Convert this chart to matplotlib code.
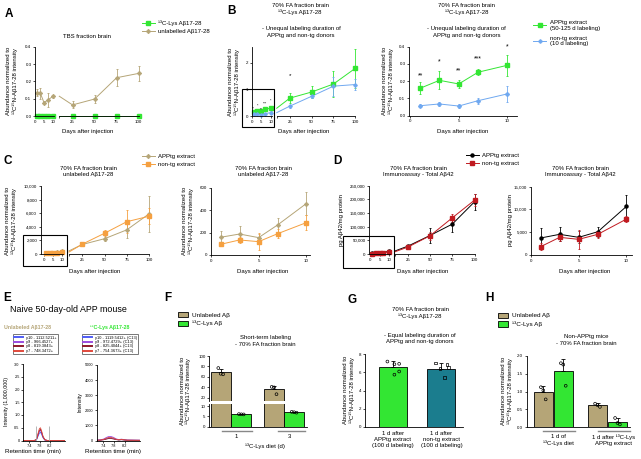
import matplotlib
matplotlib.use('Agg')
import matplotlib.pyplot as plt
import matplotlib.ticker as mticker
from matplotlib.patches import Rectangle, Patch
from matplotlib.lines import Line2D

plt.rcParams['font.family'] = ['Liberation Sans', 'DejaVu Sans']
plt.rcParams['axes.linewidth'] = 0.6

# ---------------- data ----------------
days_short = [1, 3, 5, 7, 10]
days_long = [25, 50, 75, 100]

# A - TBS fraction
a_lab_short = [0, 0, 0, 0, 0]
a_lab_long = [0, 0, 0, 0]
a_unl_short = [0.134, 0.13, 0.077, 0.092, 0.114]
a_unl_short_err = [0.02, 0.03, 0.006, 0.04, 0.01]
a_unl_long = [0.064, 0.098, 0.221, 0.246]
a_unl_long_err = [0.02, 0.025, 0.05, 0.045]

# B - 13C-Lys A-beta 17-28, 70% FA
b_app_short = [0.159, 0.205, 0.184, 0.252, 0.292]
b_app_short_err = [0.035, 0.053, 0.022, 0.018, 0.06]
b_non_short = [0.058, 0.068, 0.056, 0.087, 0.126]
b_non_short_err = [0.008, 0.01, 0.012, 0.017, 0.045]
b_app_long = [0.67, 0.9, 1.2, 1.79]
b_app_long_err = [0.19, 0.23, 0.48, 0.73]
b_non_long = [0.37, 0.74, 1.12, 1.18]
b_non_long_err = [0.06, 0.08, 0.36, 0.2]
b_stars = ['**', '*', '**', '***', '*']
b_stars_y = [0.23, 0.31, 0.26, 0.33, 0.40]
b_stars_small_y = [0.29, 0.37, 0.25, 0.48, 0.57]

# C - unlabeled A-beta 17-28, 70% FA
c_app_short = [158, 187, 155, 268, 458]
c_app_short_err = [58, 70, 35, 62, 100]
c_non_short = [95, 134, 119, 190, 288]
c_non_short_err = [12, 30, 75, 40, 65]
c_app_long = [1400, 2250, 3550, 5900]
c_app_long_err = [200, 350, 1150, 2600]
c_non_long = [1450, 3050, 4750, 5550]
c_non_long_err = [200, 500, 1650, 1200]

# D - immunoassay total A-beta 42
d_app_short = [3730, 4540, 3880, 5110, 10680]
d_app_short_err = [2100, 1500, 1300, 1100, 2600]
d_non_short = [1820, 3880, 3440, 4540, 7890]
d_non_short_err = [800, 800, 2100, 800, 600]
d_app_long = [29000, 68000, 109500, 191000]
d_app_long_err = [3000, 26000, 30000, 30000]
d_non_long = [25500, 67000, 132500, 197000]
d_non_long_err = [3000, 15000, 15000, 22000]

# E - chromatograms
rt_unl = [7.17, 7.6, 7.68, 7.74, 7.79, 7.83, 7.87, 7.93, 8.0, 8.1, 8.78]
unl_y10 = [0, 0, 0.03, 0.17, 0.29, 0.32, 0.26, 0.11, 0.02, 0, 0]
unl_y9 = [0, 0, 0.03, 0.21, 0.36, 0.4, 0.32, 0.13, 0.02, 0, 0]
unl_y8 = [0, 0, 0.04, 0.24, 0.4, 0.44, 0.35, 0.15, 0.03, 0, 0]
unl_y7 = [0, 0, 0.05, 0.28, 0.46, 0.5, 0.4, 0.17, 0.03, 0, 0]
unl_bounds = [7.65, 8.15]
rt_lab = [7.16, 7.3, 7.42, 7.52, 7.6, 7.68, 7.78, 7.88, 7.98, 8.08, 8.18, 8.3, 8.77]
lab_y10 = [20, 30, 60, 120, 160, 170, 130, 70, 40, 60, 40, 20, 10]
lab_y9 = [30, 40, 100, 200, 260, 270, 210, 110, 60, 90, 60, 30, 20]
lab_y8 = [10, 20, 50, 90, 130, 140, 100, 60, 30, 50, 30, 15, 10]
lab_y7 = [20, 30, 70, 150, 200, 210, 160, 80, 50, 70, 45, 25, 15]
unl_ions = ['y10 - 1112.5211+', 'y9 - 966.4527+', 'y8 - 819.3843+', 'y7 - 748.3472+']
lab_ions = ['y10 - 1119.5412+ (C13)', 'y9 - 972.4729+ (C13)',
            'y8 - 825.4044+ (C13)', 'y7 - 754.3673+ (C13)']

# F - short-term labeling
f_groups = ['1', '3']
f_unl_mean = [69.3, 36.0]
f_unl_sd = [6.5, 7.0]
f_unl_pts = [[77, 66, 65], [41, 40, 27]]
f_lab_mean = [6.0, 7.0]
f_lab_sd = [0.1, 0.2]
f_lab_pts = [[6.1, 6.0, 5.95], [7.2, 7.0, 6.8]]

# G - equal labeling duration
g_labels = ['1 d after\nAPPtg extract\n(100 d labeling)',
            '1 d after\nnon-tg extract\n(100 d labeling)']
g_mean = [6.6, 6.4]
g_sd = [0.62, 0.6]
g_pts = [[7.2, 6.9, 6.95, 6.1, 5.75], [7.05, 6.85, 6.5, 6.45, 5.4]]

# H - non-APPtg mice
h_labels = ['1 d of\n\u00b9\u00b3C-Lys diet', '1 d after \u00b9\u00b3C-Lys\nAPPtg extract']
h_unl_mean = [0.98, 0.617]
h_unl_sd = [0.18, 0.05]
h_unl_pts = [[1.12, 1.03, 0.78], [0.66, 0.62, 0.57]]
h_lab_mean = [1.57, 0.153]
h_lab_sd = [0.35, 0.1]
h_lab_pts = [[1.79, 1.75, 1.16], [0.26, 0.12, 0.08]]

# ---------------- style ----------------
GREEN = '#33e633'
TAN = '#b5a577'
BLUE = '#6fa8f0'
ORANGE = '#f5a040'
RED = '#c01a20'
TEAL = '#1b7d8e'
STAR4 = (4, 1, 0)
FS = 4.3
TFS = 3.2
YLAB = 'Abundance normalized to\n\u00b9\u00b3C\u00b9\u2075N-A\u03b217-28 intensity'

W, H = 641, 459
fig = plt.figure(figsize=(W / 100, H / 100), dpi=100)


def box(l, t, r, b):
    return fig.add_axes([l / W, 1 - b / H, (r - l) / W, (b - t) / H])


def ftext(x, y, s, **kw):
    kw.setdefault('ha', 'center')
    kw.setdefault('va', 'center')
    kw.setdefault('fontsize', FS)
    fig.text(x / W, 1 - y / H, s, **kw)


def style(ax):
    for s in ['top', 'right']:
        ax.spines[s].set_visible(False)
    ax.tick_params(labelsize=TFS, length=1.6, width=0.5, pad=1)
    ax.patch.set_alpha(0)


def noclip(container):
    for art in container.get_children():
        art.set_clip_on(False)


def frame_box(l, t, r, b):
    fig.patches.append(Rectangle((l / W, 1 - b / H), (r - l) / W, (b - t) / H,
                                 transform=fig.transFigure, fill=False,
                                 lw=0.8, ec='black'))


def broken_axes(l1, r1, l2, r2, t, b, x1lim, ylim, yticks, yfmt):
    a1 = box(l1, t, r1, b)
    a2 = box(l2, t, r2, b)
    for a in (a1, a2):
        style(a)
        a.set_ylim(*ylim)
    a1.set_xlim(*x1lim)
    a1.set_xticks([0, 5, 10])
    a1.set_yticks(yticks)
    a1.yaxis.set_major_formatter(yfmt)
    a2.set_xlim(10, 100)
    a2.set_xticks([10, 25, 50, 75, 100])
    a2.set_xticklabels(['', '25', '50', '75', '100'])
    a2.spines['left'].set_visible(False)
    a2.tick_params(axis='y', left=False, labelleft=False)
    return a1, a2


def series(a1, a2, s_y, s_e, l_y, l_e, color, marker, ms=2.4):
    kw = dict(color=color, marker=marker, ms=ms, elinewidth=0.6,
              capsize=1.0, capthick=0.6)
    noclip(a1.errorbar(days_short, s_y, yerr=s_e, lw=0.7, **kw))
    a2.plot([days_short[-1]] + days_long, [s_y[-1]] + l_y, color=color,
            lw=0.7, clip_on=False)
    noclip(a2.errorbar(days_long, l_y, yerr=l_e, ls='none', **kw))


def short_series(ax, s_y, s_e, color, marker, ms=2.4):
    noclip(ax.errorbar(days_short, s_y, yerr=s_e, color=color, marker=marker,
                       ms=ms, lw=0.7, elinewidth=0.6, capsize=1.0,
                       capthick=0.6))


def legend_at(handles, labels, x, y, **kw):
    opts = dict(loc='upper left', bbox_to_anchor=(x / W, 1 - y / H),
                frameon=False, fontsize=FS, borderpad=0, borderaxespad=0,
                handlelength=2.2, handletextpad=0.6, labelspacing=0.6)
    opts.update(kw)
    fig.legend(handles, labels, **opts)


def mk(color, marker, ms=2.4):
    return Line2D([], [], color=color, marker=marker, ms=ms, lw=0.7)


comma = mticker.StrMethodFormatter('{x:,.0f}')
one_dec = mticker.StrMethodFormatter('{x:.1f}')
plain = mticker.StrMethodFormatter('{x:.0f}')

# ---------------- panel letters ----------------
for letter, (x, y) in {'A': (9, 14), 'B': (232, 11), 'C': (8, 161), 'D': (337, 161),
                       'E': (7, 298), 'F': (168, 298), 'G': (352, 300),
                       'H': (489, 298)}.items():
    ftext(x, y, letter, fontsize=8.5, fontweight='bold')

# ---------------- A ----------------
a1, a2 = broken_axes(35, 54, 59.3, 138.7, 46.7, 116, (0, 10.5), (0, 0.4),
                     [0, 0.1, 0.2, 0.3, 0.4], one_dec)
series(a1, a2, a_lab_short, None, a_lab_long, None, GREEN, 's', 2.2)
series(a1, a2, a_unl_short, a_unl_short_err, a_unl_long, a_unl_long_err, TAN, STAR4, 3)
ftext(86.7, 36, 'TBS fraction brain')
ftext(12, 81, YLAB, rotation=90)
ftext(87.3, 131.7, 'Days after injection')
legend_at([mk(GREEN, 's', 2.2), mk(TAN, STAR4, 3)],
          ['\u00b9\u00b3C-Lys A\u03b217-28', 'unlabelled A\u03b217-28'], 141.7, 20)

# ---------------- B left ----------------
b1, b2 = broken_axes(251.7, 271.6, 276.7, 355.3, 46.7, 116, (0, 10.5), (0, 2.6),
                     [0, 1, 2], plain)
series(b1, b2, b_app_short, b_app_short_err, b_app_long, b_app_long_err, GREEN, 's', 2.2)
series(b1, b2, b_non_short, b_non_short_err, b_non_long, b_non_long_err, BLUE, 'P', 2.2)
for d, s, y in zip(days_short, b_stars, b_stars_small_y):
    b1.text(d, y, s, fontsize=2.6, ha='center', va='center')
b2.text(days_long[0], 1.5, '*', fontsize=4.5, ha='center', va='center')
frame_box(242, 89.5, 274, 127)
ftext(300, 9.3, '70% FA fraction brain\n\u00b9\u00b3C-Lys A\u03b217-28', linespacing=1.3)
ftext(301, 32, '- Unequal labeling duration of\nAPPtg and non-tg donors', linespacing=1.3)
ftext(233.7, 81.7, YLAB, rotation=90)
ftext(304, 131, 'Days after injection')

# ---------------- B right ----------------
br = box(409, 46.7, 516.7, 115.7)
style(br)
br.set_xlim(-0.15, 11)
br.set_ylim(0, 0.4)
br.set_xticks([0, 5, 10])
br.set_yticks([0, 0.1, 0.2, 0.3, 0.4])
br.yaxis.set_major_formatter(one_dec)
short_series(br, b_app_short, b_app_short_err, GREEN, 's', 2.4)
short_series(br, b_non_short, b_non_short_err, BLUE, 'P', 2.4)
for d, s, y in zip(days_short, b_stars, b_stars_y):
    br.text(d, y, s, fontsize=5, ha='center', va='center')
ftext(466.7, 9.3, '70% FA fraction brain\n\u00b9\u00b3C-Lys A\u03b217-28', linespacing=1.3)
ftext(466.7, 32, '- Unequal labeling duration of\nAPPtg and non-tg donors', linespacing=1.3)
ftext(388.3, 81, YLAB, rotation=90)
ftext(462.7, 131.7, 'Days after injection')
legend_at([mk(GREEN, 's', 2.2), mk(BLUE, 'P', 2.2)],
          ['APPtg extract\n(50-125 d labeling)', 'non-tg extract\n(10 d labeling)'],
          533, 20, labelspacing=0.8)

# ---------------- C left ----------------
c1, c2 = broken_axes(40.7, 63, 69, 149, 186, 254, (-2, 10.5), (0, 10000),
                     [0, 2000, 4000, 6000, 8000, 10000], comma)
series(c1, c2, c_app_short, c_app_short_err, c_app_long, c_app_long_err, TAN, STAR4, 3)
series(c1, c2, c_non_short, c_non_short_err, c_non_long, c_non_long_err, ORANGE, 's', 2.2)
frame_box(23.3, 234.5, 66.5, 266)
ftext(88.3, 171.7, '70% FA fraction brain\nunlabeled A\u03b217-28', linespacing=1.3)
ftext(10.8, 221, YLAB, rotation=90)
ftext(95, 271, 'Days after injection')
legend_at([mk(TAN, STAR4, 3), mk(ORANGE, 's', 2.2)],
          ['APPtg extract', 'non-tg extract'], 141.7, 153.5)

# ---------------- C right ----------------
cr = box(211, 187.7, 310, 255)
style(cr)
cr.set_xlim(0, 10.4)
cr.set_ylim(0, 600)
cr.set_xticks([0, 5, 10])
cr.set_yticks([0, 200, 400, 600])
short_series(cr, c_app_short, c_app_short_err, TAN, STAR4, 3)
short_series(cr, c_non_short, c_non_short_err, ORANGE, 's', 2.2)
ftext(263.3, 171.7, '70% FA fraction brain\nunlabeled A\u03b217-28', linespacing=1.3)
ftext(188.3, 221, YLAB, rotation=90)
ftext(263, 272, 'Days after injection')

# ---------------- D left ----------------
d1, d2 = broken_axes(369.3, 390, 394.7, 474.5, 185.7, 254, (-0.5, 10.5), (0, 250000),
                     [0, 50000, 100000, 150000, 200000, 250000], comma)
series(d1, d2, d_app_short, d_app_short_err, d_app_long, d_app_long_err, 'black', 'o', 2.2)
series(d1, d2, d_non_short, d_non_short_err, d_non_long, d_non_long_err, RED, 's', 2.2)
frame_box(343.3, 235.7, 394, 267.7)
ftext(418.3, 171.7, '70% FA fraction brain\nImmunoassay - Total A\u03b242', linespacing=1.3)
ftext(342, 220, 'pg A\u03b242/mg protein', rotation=90)
ftext(423, 271, 'Days after injection')
legend_at([mk('black', 'o', 2.2), mk(RED, 's', 2.2)],
          ['APPtg extract', 'non-tg extract'], 465.7, 152.5)

# ---------------- D right ----------------
dr = box(531, 186.7, 631.7, 255)
style(dr)
dr.set_xlim(0, 10.55)
dr.set_ylim(0, 15000)
dr.set_xticks([0, 5, 10])
dr.set_yticks([0, 5000, 10000, 15000])
dr.yaxis.set_major_formatter(comma)
short_series(dr, d_app_short, d_app_short_err, 'black', 'o', 2.2)
short_series(dr, d_non_short, d_non_short_err, RED, 's', 2.2)
ftext(580, 171.7, '70% FA fraction brain\nImmunoassay - Total A\u03b242', linespacing=1.3)
ftext(511, 220, 'pg A\u03b242/mg protein', rotation=90)
ftext(585, 271, 'Days after injection')

# ---------------- E ----------------
ion_colors = ['#4f5cf5', '#9a4de0', '#8b1a2b', '#e0493c']
ftext(10, 310, 'Naive 50-day-old APP mouse', fontsize=6.4, ha='left')
ftext(27.5, 327.3, 'Unlabeled A\u03b217-28', fontsize=3.8, fontweight='bold', color=TAN)
ftext(110, 327.3, '\u00b9\u00b3C-Lys A\u03b217-28', fontsize=3.8, fontweight='bold', color=GREEN)

el = box(23.3, 364, 65, 440.5)
style(el)
el.set_xlim(7.17, 8.78)
el.set_ylim(0, 3.0)
el.set_xticks([7.4, 7.8, 8.2])
el.set_yticks([0, 0.5, 1.0, 1.5, 2.0, 2.5, 3.0])
el.set_yticklabels(['0', '0.5', '1.0', '1.5', '2.0', '2.5', '3.0'])
el.tick_params(labelsize=2.8)
for c, ys in zip(ion_colors, [unl_y10, unl_y9, unl_y8, unl_y7]):
    el.plot(rt_unl, ys, color=c, lw=0.6)
el.vlines(unl_bounds, 0, 0.57, color='#aaaaaa', lw=0.6)
ftext(6.7, 402, 'Intensity (1,000,000)', rotation=90, fontsize=3.8)
ftext(33.3, 451.5, 'Retention time (min)', fontsize=4.5)

er = box(96.7, 365, 140, 440.5)
style(er)
er.set_xlim(7.16, 8.77)
er.set_ylim(0, 5000)
er.set_xticks([7.4, 7.8, 8.2])
er.set_yticks([0, 1000, 2000, 3000, 4000, 5000])
er.tick_params(labelsize=2.8)
for c, ys in zip(ion_colors, [lab_y10, lab_y9, lab_y8, lab_y7]):
    er.plot(rt_lab, ys, color=c, lw=0.6)
ftext(80, 401.7, 'Intensity', rotation=90, fontsize=3.8)
ftext(113.3, 451.5, 'Retention time (min)', fontsize=4.5)

for ax, ions, x in [(el, unl_ions, 12.7), (er, lab_ions, 81.7)]:
    hs = [Line2D([], [], color=c, lw=1.4) for c in ion_colors]
    lg = ax.legend(hs, ions, loc='upper left', bbox_to_anchor=(x / W, 1 - 334.3 / H),
                   bbox_transform=fig.transFigure, fontsize=2.9, frameon=True,
                   fancybox=False, edgecolor='#555555', borderpad=0.3,
                   handlelength=2.2, handletextpad=0.8, labelspacing=0.12,
                   borderaxespad=0)
    lg.get_frame().set_linewidth(0.7)


# ---------------- bar helpers ----------------
def bars(ax, pos, means, sds, color, width):
    ax.bar(pos, means, width=width, color=color, edgecolor='black', lw=0.6, zorder=2)
    noclip(ax.errorbar(pos, means, yerr=[[0] * len(sds), sds], fmt='none',
                       ecolor='black', elinewidth=0.6, capsize=1.5, capthick=0.6, zorder=3))


def dots(ax, pos, pts, marker='o', offs=(-0.12, 0.0, 0.12, -0.06, 0.06)):
    for p, vals in zip(pos, pts):
        xs = [p + offs[i % len(offs)] for i in range(len(vals))]
        ax.scatter(xs, vals, s=4, facecolors='none', edgecolors='black',
                   linewidths=0.5, marker=marker, zorder=4, clip_on=False)


def bar_style(ax):
    style(ax)
    ax.tick_params(axis='x', length=0, pad=5, labelsize=FS)


# ---------------- F ----------------
f_tan_pos = [0.57, 3.24]
f_grn_pos = [1.6, 4.24]
f_tick_pos = [1.34, 4.0]
f_line_span = [(0.62, 2.12), (3.45, 4.79)]
fu = box(209.3, 356, 306.7, 401)
fl = box(209.3, 404, 306.7, 426.7)
for ax in (fu, fl):
    bar_style(ax)
    ax.set_xlim(0, 4.87)
fu.set_ylim(14, 100)
fu.set_yticks([20, 40, 60, 80, 100])
fu.spines['bottom'].set_visible(False)
fu.tick_params(axis='x', bottom=False, labelbottom=False)
fl.set_ylim(0, 11)
fl.set_yticks([0, 5, 10])
bars(fu, f_tan_pos, f_unl_mean, f_unl_sd, TAN, 1.0)
dots(fu, f_tan_pos, f_unl_pts)
fl.bar(f_tan_pos, f_unl_mean, width=1.0, color=TAN, edgecolor='black', lw=0.6, zorder=2)
bars(fl, f_grn_pos, f_lab_mean, f_lab_sd, GREEN, 1.0)
dots(fl, f_grn_pos, f_lab_pts)
fl.set_xticks(f_tick_pos)
fl.set_xticklabels(f_groups)
for x0, x1 in f_line_span:
    fl.plot([x0, x1], [-0.19, -0.19], transform=fl.get_xaxis_transform(),
            color='#888888', lw=1.0, clip_on=False)
ftext(265, 341, 'Short-term labeling\n- 70% FA fraction brain', linespacing=1.3)
ftext(185.5, 391, YLAB, rotation=90)
ftext(265, 445.7, '\u00b9\u00b3C-Lys diet (d)')
legend_at([Patch(fc=TAN, ec='black', lw=0.6), Patch(fc=GREEN, ec='black', lw=0.6)],
          ['Unlabeled A\u03b2', '\u00b9\u00b3C-Lys A\u03b2'], 178, 311.8,
          handlelength=1.6, handleheight=0.9, labelspacing=0.45, fontsize=4.6)

# ---------------- G ----------------
g_pos = [1.0, 2.73]
ga = box(365, 354.3, 463, 426.7)
bar_style(ga)
ga.set_xlim(0, 3.5)
ga.set_ylim(0, 8)
ga.set_yticks([0, 2, 4, 6, 8])
bars(ga, g_pos[:1], g_mean[:1], g_sd[:1], GREEN, 1.0)
bars(ga, g_pos[1:], g_mean[1:], g_sd[1:], TEAL, 1.0)
dots(ga, g_pos[:1], g_pts[:1], 'o', (-0.2, 0.05, 0.22, 0.22, 0.05))
dots(ga, g_pos[1:], g_pts[1:], 's', (-0.2, 0.2, 0.25, -0.05, 0.12))
ga.set_xticks(g_pos)
ga.set_xticklabels(g_labels, linespacing=1.3)
ga.tick_params(axis='x', pad=3)
ftext(420, 313, '70% FA fraction brain\n\u00b9\u00b3C-Lys A\u03b217-28', linespacing=1.3)
ftext(420, 338.3, '- Equal labeling duration of\nAPPtg and non-tg donors', linespacing=1.3)
ftext(348.8, 390, YLAB, rotation=90)

# ---------------- H ----------------
h_tan_pos = [0.83, 3.54]
h_grn_pos = [1.83, 4.54]
h_tick_pos = [1.57, 4.32]
h_line_span = [(0.82, 2.42), (3.57, 5.17)]
ha_ = box(526.7, 355.7, 630, 427.3)
bar_style(ha_)
ha_.set_xlim(0, 5.165)
ha_.set_ylim(0, 2.0)
ha_.set_yticks([0, 0.5, 1.0, 1.5, 2.0])
ha_.yaxis.set_major_formatter(one_dec)
bars(ha_, h_tan_pos, h_unl_mean, h_unl_sd, TAN, 0.93)
bars(ha_, h_grn_pos, h_lab_mean, h_lab_sd, GREEN, 0.93)
dots(ha_, h_tan_pos, h_unl_pts)
dots(ha_, h_grn_pos, h_lab_pts)
ha_.set_xticks(h_tick_pos)
ha_.set_xticklabels(h_labels, linespacing=1.3)
for x0, x1 in h_line_span:
    ha_.plot([x0, x1], [-0.05, -0.05], transform=ha_.get_xaxis_transform(),
             color='#888888', lw=1.0, clip_on=False)
ftext(586.7, 340, 'Non-APPtg mice\n- 70% FA fraction brain', linespacing=1.3)
ftext(507, 391, YLAB, rotation=90)
legend_at([Patch(fc=TAN, ec='black', lw=0.6), Patch(fc=GREEN, ec='black', lw=0.6)],
          ['Unlabeled A\u03b2', '\u00b9\u00b3C-Lys A\u03b2'], 498, 312.5,
          handlelength=1.6, handleheight=0.9, labelspacing=0.45, fontsize=4.6)

fig.savefig('out.png', dpi=100)
